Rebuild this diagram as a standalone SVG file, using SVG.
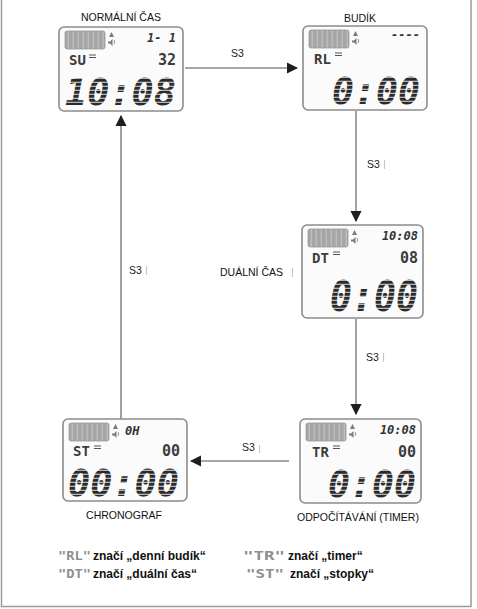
<svg xmlns="http://www.w3.org/2000/svg" width="477" height="609" viewBox="0 0 477 609">
<style>
.frame{fill:#fbfbfb;stroke:#8c8c8c;stroke-width:1.6}
.bat{fill:#a9a9a9;stroke:#9a9a9a;stroke-width:0.8}
.ico{fill:#7a7a7a}
.lbl{font-family:"Liberation Sans",Arial,sans-serif;font-size:10.5px;fill:#111}
.s3{font-family:"Liberation Sans",Arial,sans-serif;font-size:10.5px;fill:#222}
.big{font-family:"DejaVu Sans Mono",monospace;font-weight:bold;font-style:oblique;font-size:38px;fill:url(#hatch)}
.mid{font-family:"DejaVu Sans Mono",monospace;font-weight:bold;font-size:15px;fill:#3c3c3c}
.code{font-family:"DejaVu Sans Mono",monospace;font-weight:bold;font-size:14px;fill:#3c3c3c}
.top{font-family:"DejaVu Sans Mono",monospace;font-weight:bold;font-style:oblique;font-size:12px;fill:#333}
.conn{stroke:#8a8a8a;stroke-width:1.6;fill:none}
.tick{stroke:#c8c8c8;stroke-width:1.2}
.leg{font-family:"Liberation Sans",Arial,sans-serif;font-weight:bold;font-size:12px;fill:#111}
.legi{font-family:"DejaVu Sans Mono",monospace;font-weight:bold;font-size:12px;fill:#8f8f8f}
</style>
<defs>
<pattern id="hatch" patternUnits="userSpaceOnUse" width="6" height="4">
<rect width="6" height="4" fill="#2a2a2a"/>
<rect y="2.7" width="6" height="1.3" fill="#b5b5b5"/>
</pattern>
<pattern id="bstripe" patternUnits="userSpaceOnUse" width="5" height="5">
<rect width="5" height="5" fill="#a6a6a6"/>
<rect x="3.6" width="1.4" height="5" fill="#bdbdbd"/>
</pattern>
<marker id="ah" viewBox="0 0 10 10" refX="9" refY="5" markerWidth="7" markerHeight="7" orient="auto" markerUnits="strokeWidth">
<path d="M0,0 L10,5 L0,10 z" fill="#1e1e1e"/>
</marker>
<g id="icons">
<rect class="bat" x="6" y="4" width="40" height="18" rx="2" style="fill:url(#bstripe)"/>
<path class="ico" d="M52.5,5 l2.5,5 h-5z"/>
<path class="ico" d="M49,14.5 h2 l2.5,-2.5 v7 l-2.5,-2.5 h-2z"/>
<path d="M55,13 q1.5,2 0,4" stroke="#7a7a7a" stroke-width="0.8" fill="none"/>
</g>
<g id="mark">
<path d="M0,0 h7 M0,2.5 h7" stroke="#555" stroke-width="1.2"/>
</g>
</defs>

<rect x="1.5" y="-10" width="469.5" height="616.5" fill="none" stroke="#9a9a9a" stroke-width="1.5"/>

<g id="connectors">
<line class="conn" x1="185" y1="68" x2="297" y2="68" marker-end="url(#ah)"/>
<text class="s3" x="231" y="57">S3</text>
<line class="conn" x1="356" y1="111" x2="356" y2="221" marker-end="url(#ah)"/>
<text class="s3" x="367" y="168">S3</text>
<line class="tick" x1="384.5" y1="160" x2="384.5" y2="169"/>
<line class="conn" x1="356" y1="319" x2="356" y2="414" marker-end="url(#ah)"/>
<text class="s3" x="366" y="361">S3</text>
<line class="tick" x1="383.5" y1="353" x2="383.5" y2="362"/>
<line class="conn" x1="289" y1="461" x2="191" y2="461" marker-end="url(#ah)"/>
<text class="s3" x="242" y="451">S3</text>
<line class="tick" x1="259.5" y1="445" x2="259.5" y2="453"/>
<line class="conn" x1="121" y1="419" x2="121" y2="116" marker-end="url(#ah)"/>
<text class="s3" x="129" y="274">S3</text>
<line class="tick" x1="146.5" y1="266" x2="146.5" y2="275"/>
</g>

<g id="normalni-cas">
<text class="lbl" x="121" y="21" text-anchor="middle">NORMÁLNÍ ČAS</text>
<g transform="translate(59,27)">
<rect class="frame" x="0" y="0" width="124" height="84" rx="5"/>
<use href="#icons"/>
<text class="top" x="117" y="15" text-anchor="end">1- 1</text>
<text class="code" x="10" y="38">SU</text>
<use href="#mark" x="30" y="28"/>
<text class="mid" x="117" y="38" text-anchor="end">32</text>
<text class="big" x="6" y="78" textLength="111" lengthAdjust="spacingAndGlyphs">10:08</text>
</g>
</g>

<g id="budik">
<text class="lbl" x="360" y="22" text-anchor="middle">BUDÍK</text>
<g transform="translate(303,26)">
<rect class="frame" x="0" y="0" width="124" height="84" rx="5"/>
<use href="#icons"/>
<text class="top" x="117" y="13" text-anchor="end">----</text>
<text class="code" x="11" y="38">RL</text>
<use href="#mark" x="32" y="27"/>
<text class="big" x="29" y="78" textLength="88" lengthAdjust="spacingAndGlyphs">0:00</text>
</g>
</g>

<g id="dualni-cas">
<text class="lbl" x="220" y="276">DUÁLNÍ ČAS</text>
<line class="tick" x1="292.5" y1="268" x2="292.5" y2="277"/>
<g transform="translate(302,225)">
<rect class="frame" x="0" y="0" width="121" height="93" rx="5"/>
<use href="#icons"/>
<text class="top" x="116" y="15" text-anchor="end">10:08</text>
<text class="code" x="10" y="38">DT</text>
<use href="#mark" x="31" y="27"/>
<text class="mid" x="116" y="38" text-anchor="end">08</text>
<text class="big" x="28" y="86" textLength="88" lengthAdjust="spacingAndGlyphs" style="font-size:43px">0:00</text>
</g>
</g>

<g id="odpocitavani">
<text class="lbl" x="358" y="521" text-anchor="middle">ODPOČÍTÁVÁNÍ (TIMER)</text>
<g transform="translate(300,419)">
<rect class="frame" x="0" y="0" width="121" height="84" rx="5"/>
<use href="#icons"/>
<text class="top" x="116" y="15" text-anchor="end">10:08</text>
<text class="code" x="12" y="38">TR</text>
<use href="#mark" x="33" y="27"/>
<text class="mid" x="116" y="38" text-anchor="end">00</text>
<text class="big" x="28" y="78" textLength="88" lengthAdjust="spacingAndGlyphs">0:00</text>
</g>
</g>

<g id="chronograf">
<text class="lbl" x="124" y="519" text-anchor="middle">CHRONOGRAF</text>
<g transform="translate(63,419)">
<rect class="frame" x="0" y="0" width="124" height="82" rx="5"/>
<use href="#icons"/>
<text class="top" x="62" y="16">0H</text>
<text class="code" x="10" y="37">ST</text>
<use href="#mark" x="31" y="27"/>
<text class="mid" x="117" y="37" text-anchor="end">00</text>
<text class="big" x="5" y="77" textLength="111" lengthAdjust="spacingAndGlyphs">00:00</text>
</g>
</g>

<g id="legend">
<text class="legi" x="58" y="560" textLength="33" lengthAdjust="spacingAndGlyphs">"RL"</text>
<text class="leg" x="93" y="560">značí „denní budík“</text>
<text class="legi" x="58" y="578" textLength="33" lengthAdjust="spacingAndGlyphs">"DT"</text>
<text class="leg" x="93" y="578">značí „duální čas“</text>
<text class="legi" x="243" y="560" textLength="42" lengthAdjust="spacingAndGlyphs">"TR"</text>
<text class="leg" x="288" y="560">značí „timer“</text>
<text class="legi" x="246" y="578" textLength="38" lengthAdjust="spacingAndGlyphs">"ST"</text>
<text class="leg" x="290" y="578">značí „stopky“</text>
</g>
</svg>
